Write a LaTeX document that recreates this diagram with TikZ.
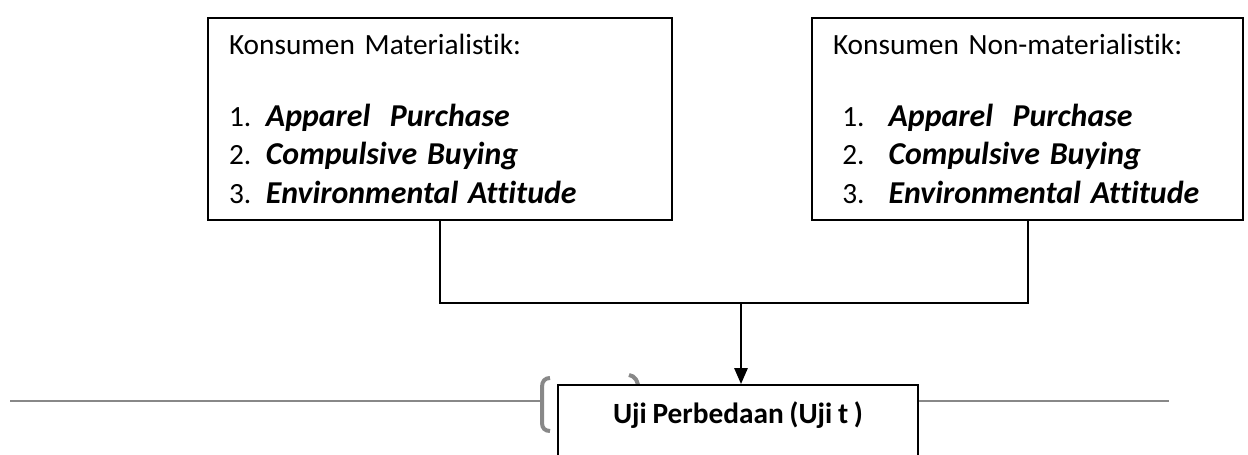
\documentclass[tikz,border=0pt]{standalone}
\usepackage{fontspec}
\setmainfont{Carlito}[Ligatures={NoCommon}, WordSpace={0.85}]
\usetikzlibrary{arrows.meta}
\definecolor{linegray}{RGB}{136,136,136}
\newcommand{\itemfont}{\fontsize{23.9}{29}\selectfont\bfseries\itshape}
\tikzset{every picture/.style={line width=0.75pt}}
\tikzset{
  konsbox/.style={draw, line width=1.5pt, fill=white, align=left, anchor=north west,
    inner xsep=15.75pt, inner ysep=0pt, minimum height=151.5pt,
    font=\fontsize{22}{29}\selectfont},
  ujibox/.style={draw, line width=1.5pt, fill=white, anchor=north, minimum width=270pt,
    inner ysep=0pt, text height=28.5pt, text depth=45pt,
    font=\fontsize{22}{29}\selectfont\bfseries},
  konn/.style={line width=1.5pt},
}

\begin{document}
\begin{tikzpicture}[x=0.75pt,y=0.75pt,yscale=-1,xscale=1]
\useasboundingbox (0,0) rectangle (1248,454);

%Straight Lines (grey, behind the box)
\draw [color=linegray, line width=1.5pt]  (10,401) -- (542,401) ;
\draw [color=linegray, line width=1.5pt]  (900,401) -- (1169,401) ;
%Curve Lines
\draw [color=linegray, line width=3pt]  (550,378) .. controls (545,378) and (542,381) .. (542,387) -- (542,423) .. controls (542,428) and (545,431) .. (550,431) ;
\draw [color=linegray, line width=3pt]  (629,375) .. controls (635,376) and (638,380) .. (639,392) ;

% Text Node
\node [konsbox, text width=316.5pt] (lbox) at (207,16.7) {Konsumen Materialistik:\\[25pt]
1.\hspace{11pt}{\itemfont Apparel\ \ Purchase}\\
2.\hspace{11pt}{\itemfont Compulsive Buying}\\
3.\hspace{11pt}{\itemfont Environmental Attitude}};
% Text Node
\node [konsbox, text width=291.75pt] (rbox) at (811,16.7) {Konsumen Non-materialistik:\\[25pt]
\hspace{7pt}1.\hspace{18pt}{\itemfont Apparel\ \ Purchase}\\
\hspace{7pt}2.\hspace{18pt}{\itemfont Compulsive Buying}\\
\hspace{7pt}3.\hspace{18pt}{\itemfont Environmental Attitude}};
% Text Node
\node [ujibox] (uji) at (738,384) {Uji Perbedaan (Uji t )};

%Connectors
\coordinate (join) at (741,303);
\draw [konn]  (lbox.south) |- (join) -| (rbox.south) ;
\draw [konn, -{Triangle[length=12pt,width=10pt]}]  (join) -- (join |- uji.north) ;

\end{tikzpicture}
\end{document}
